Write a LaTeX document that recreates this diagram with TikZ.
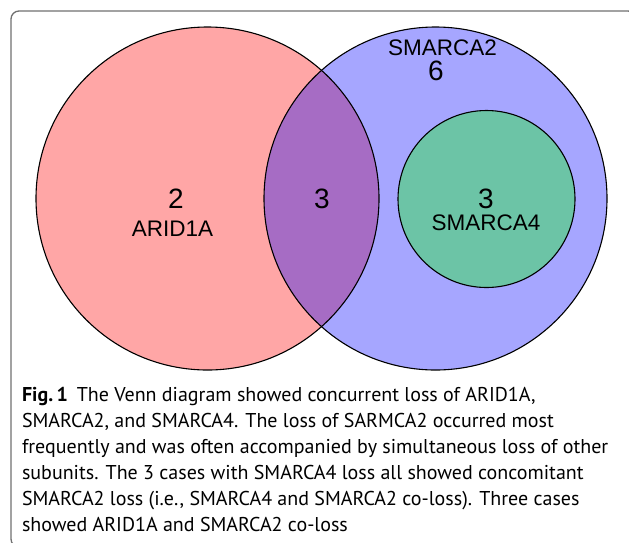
\documentclass[tikz,border=0pt]{standalone}
\usepackage{fontspec}
\setmainfont{Liberation Sans}
\newfontfamily\capfont{PT Sans}
\usetikzlibrary{positioning}

\definecolor{aridpink}{HTML}{FFA6A6}
\definecolor{smarcablue}{HTML}{A6A6FF}
\definecolor{bothpurple}{HTML}{A66CC4}
\definecolor{smarcagreen}{HTML}{6CC4A6}
\definecolor{framegray}{HTML}{707070}

\begin{document}
\begin{tikzpicture}[x=1pt, y=-1pt, outer sep=0pt,
    setname/.style={font=\fontsize{22.5}{26}\selectfont, inner sep=0pt},
    setcount/.style={font=\fontsize{28}{32}\selectfont, inner sep=0pt},
    ring/.style={draw=black, line width=1.1pt}]
    \useasboundingbox (0,0) rectangle (629,542);
    \clip (0,0) rectangle (629,542);
    \draw [framegray, line width=1.3pt, rounded corners=8pt] (11,11) rectangle (636,547);

    \coordinate (arid) at (207.5,198.5);
    \coordinate (smb) at (435.5,198.5);
    \coordinate (sm4) at (486.5,199);

    \fill [aridpink] (arid) circle [radius=171.5];
    \fill [smarcablue] (smb) circle [radius=171.5];
    \begin{scope}
        \clip (arid) circle [radius=171.5];
        \fill [bothpurple] (smb) circle [radius=171.5];
    \end{scope}
    \draw [ring] (arid) circle [radius=171.5];
    \draw [ring] (smb) circle [radius=171.5];
    \draw [ring, fill=smarcagreen] (sm4) circle [radius=88.5];

    \node [setcount] (aridcount) at (176,199) {2};
    \node [setname, below=12pt of aridcount, xshift=-3.5pt] (aridname) {ARID1A};
    \node [setcount] (bothcount) at (322,199) {3};
    \node [setcount] (smbcount) at (436,71) {6};
    \node [setname, above=5pt of smbcount, xshift=6.5pt] (smbname) {SMARCA2};
    \node [setcount] (sm4count) at (486,199) {3};
    \node [setname, below=6pt of sm4count] (sm4name) {SMARCA4};

    \node [anchor=north west, align=left, inner sep=0pt, font=\capfont\fontsize{20}{26}\selectfont] (caption) at (22,387)
        {{\bfseries Fig.\,1}\hspace{9pt}The Venn diagram showed concurrent loss of ARID1A,\\
         SMARCA2, and SMARCA4. The loss of SARMCA2 occurred most\\
         frequently and was often accompanied by simultaneous loss of other\\
         subunits. The 3 cases with SMARCA4 loss all showed concomitant\\
         SMARCA2 loss (i.e., SMARCA4 and SMARCA2 co-loss). Three cases\\
         showed ARID1A and SMARCA2 co-loss};
\end{tikzpicture}
\end{document}
